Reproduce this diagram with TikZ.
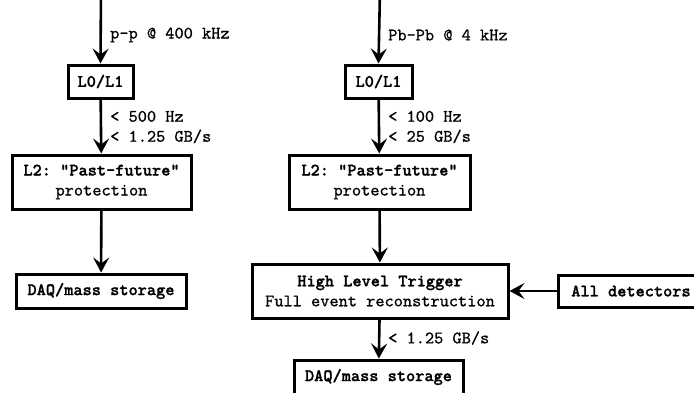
\documentclass[tikz,border=0pt]{standalone}
\usepackage{fontspec}
\setmonofont{lmmono10-regular}[Extension=.otf, FakeBold=0.8, BoldFont=lmmonolt10-bold, BoldFeatures={FakeBold=1.2}]
\usetikzlibrary{arrows.meta}
\tikzset{
  box/.style={draw, line width=3pt, inner sep=0pt, align=center,
    font=\ttfamily\fontsize{17.5}{20}\selectfont},
  lbl/.style={anchor=west, inner sep=0pt, align=left,
    font=\ttfamily\fontsize{17.5}{20}\selectfont},
  arr/.style={line width=2.6pt, -{Stealth[length=15pt,width=16pt,inset=6pt]}}
}
\begin{document}
\begin{tikzpicture}[x=1pt,y=-1pt]
\useasboundingbox (0,0) rectangle (694,392);
\clip (0,0) rectangle (694,392);
% left column
\coordinate (ltop) at (101,-10);
\node[box, minimum width=65pt, minimum height=33pt] (l01) at (100.5,81.5) {\bfseries L0/L1};
\node[box, minimum width=179pt, minimum height=54pt] (l2) at (101.5,182) {\bfseries L2: "Past-future"\\protection};
\node[box, minimum width=170pt, minimum height=34pt] (ldaq) at (101,291) {\bfseries DAQ/mass storage};
\draw[arr] (ltop) -- (l01.north);
\draw[arr] (l01) -- (l2);
\draw[arr] (l2) -- (ldaq);
\node[lbl] (lin) at (110,35) {p-p @ 400 kHz};
\node[lbl] (lrate) at (110,127) {< 500 Hz\\< 1.25 GB/s};
% right column
\coordinate (rtop) at (380,-10);
\node[box, minimum width=67pt, minimum height=33pt] (r01) at (378.5,81.5) {\bfseries L0/L1};
\node[box, minimum width=181pt, minimum height=54pt] (r2) at (379.5,182) {\bfseries L2: "Past-future"\\protection};
\node[box, minimum width=256pt, minimum height=54pt] (hlt) at (380,291) {\bfseries High Level Trigger\\Full event reconstruction};
\node[box, minimum width=146pt, minimum height=32pt] (alld) at (631,291) {\bfseries All detectors};
\node[box, minimum width=169pt, minimum height=34pt] (rdaq) at (378.5,377) {\bfseries DAQ/mass storage};
\draw[arr] (rtop) -- (r01.north);
\draw[arr] (r01) -- (r2);
\draw[arr] (r2) -- (hlt);
\draw[arr] (alld) -- (hlt);
\draw[arr] (hlt) -- (rdaq);
\node[lbl] (rin) at (388,35) {Pb-Pb @ 4 kHz};
\node[lbl] (rrate) at (388,127) {< 100 Hz\\< 25 GB/s};
\node[lbl] (hrate) at (388,338) {< 1.25 GB/s};
\end{tikzpicture}
\end{document}
